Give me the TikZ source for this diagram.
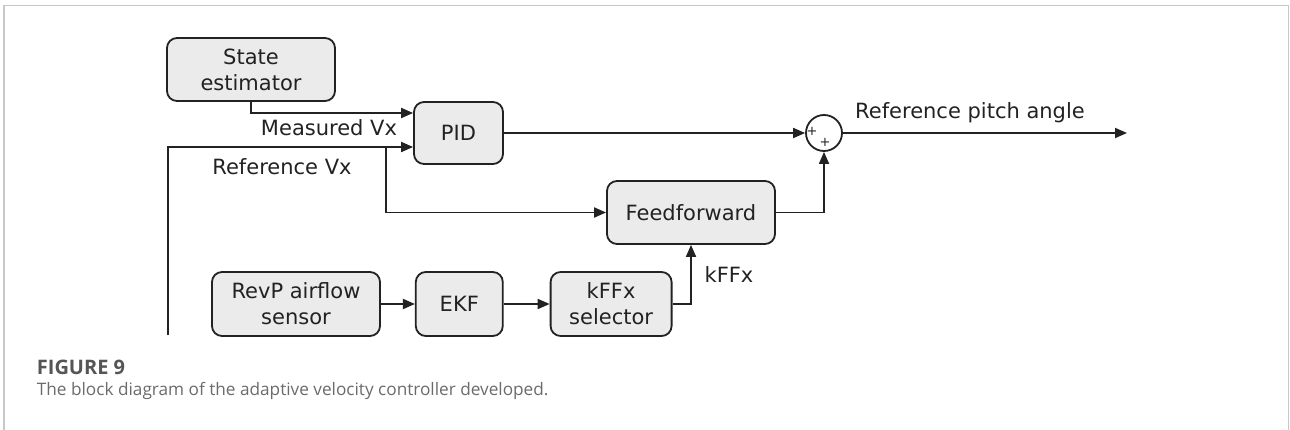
\documentclass[tikz,border=0pt]{standalone}
\usepackage{fontspec}
\setmainfont{DejaVu Sans}
\newfontfamily\capfont{Open Sans}
\usetikzlibrary{arrows.meta,positioning}

\definecolor{boxgray}{HTML}{EBEBEB}
\definecolor{linegray}{HTML}{222222}
\definecolor{framegray}{HTML}{C8C8C8}
\definecolor{figgray}{HTML}{555555}
\definecolor{captiongray}{HTML}{6B6B6B}

\begin{document}
\begin{tikzpicture}[x=1pt,y=-1pt,>={Triangle[length=12pt,width=10pt]},line width=1.8pt,draw=linegray,
  font=\fontsize{21}{26}\selectfont]
   \tikzstyle{block}=[draw=linegray,fill=boxgray,rounded corners=10pt,align=center,inner sep=0pt,text=linegray]
   \tikzstyle{signal}=[text=linegray,inner sep=0pt]
   \useasboundingbox (0,0) rectangle (1290,430);

   % frame of the figure
   \draw[framegray,line width=1.5pt] (4,430) -- (4,5.5) -- (1288.5,5.5) -- (1288.5,430);

   \node[block,minimum width=168pt,minimum height=63pt] (est) at (251,69.5) {State\\estimator};
   \node[block,minimum width=89pt,minimum height=62pt]  (pid) at (458.5,133) {PID};
   \node[block,minimum width=168pt,minimum height=63pt] (ff)  at (691,212.5) {Feedforward};
   \node[draw=linegray,circle,minimum size=36pt,inner sep=0pt] (sum) at (824,133) {};
   \node[block,minimum width=168pt,minimum height=64pt] (sensor) at (296,304) {RevP airflow\\sensor};
   \node[block,minimum width=87pt,minimum height=64pt]  (ekf) [right=34pt of sensor] {EKF};
   \node[block,minimum width=121pt,minimum height=64pt] (sel) [right=46pt of ekf] {kFFx\\selector};

   \coordinate (refin) at (168,335);
   \coordinate (br)    at (386,147);
   \coordinate (out)   at (1127,133);

   % signs of the summing point
   \node[signal,font=\fontsize{13}{13}\selectfont] (p1) at (812,131) {+};
   \node[signal,font=\fontsize{13}{13}\selectfont] (p2) at (825,142) {+};

   % signals
   \draw[->] (est.south) |- ([yshift=20pt]pid.west);
   \draw[->] (refin) |- ([yshift=-14pt]pid.west);
   \draw[->] (br) |- (ff.west);
   \draw[->] (pid.east) -- (sum.west);
   \draw[->] (ff.east) -| (sum.south);
   \draw[->] (sum.east) -- (out);
   \path[->]
     (sensor) edge (ekf)
     (ekf)    edge (sel);
   \draw[->] (sel.east) -| (ff.south);

   \node[signal] (lmeas) at (329,128) {Measured Vx};
   \node[signal] (lref)  at (282,167) {Reference Vx};
   \node[signal] (lout)  at (970,113) {Reference pitch angle};
   \node[signal] (lk)    at (729,275) {kFFx};

   % caption
   \node[anchor=west,inner sep=0pt,text=figgray,font=\capfont\bfseries\fontsize{20}{22}\selectfont] (fig) at (36,367) {FIGURE 9};
   \node[anchor=west,inner sep=0pt,text=captiongray,font=\capfont\fontsize{17.2}{20}\selectfont] (cap) at (36,391) {The block diagram of the adaptive velocity controller developed.};
\end{tikzpicture}
\end{document}
